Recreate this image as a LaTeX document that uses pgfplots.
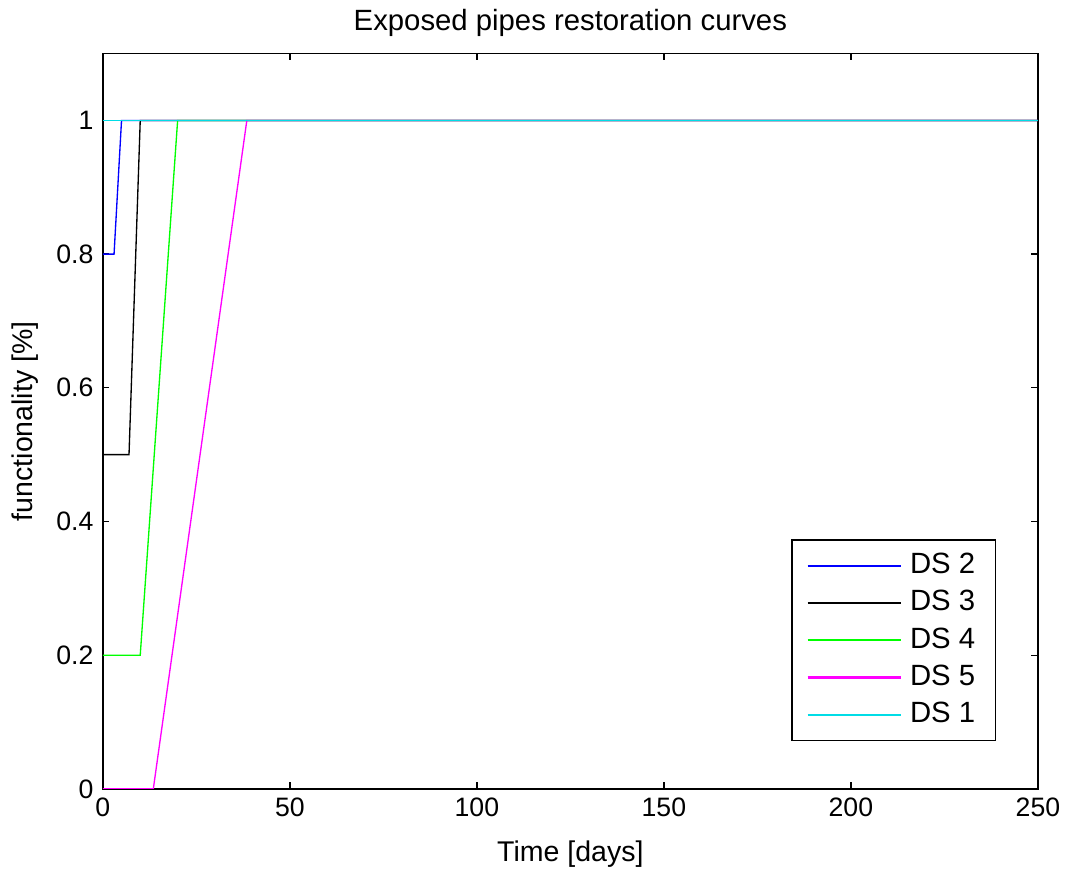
\documentclass[border=0pt]{standalone}
\usepackage{pgfplots}
\pgfplotsset{compat=1.18}
\usepackage{fontspec}
\setmainfont{Liberation Sans}
\definecolor{dsblue}{RGB}{0,0,255}
\definecolor{dsgreen}{RGB}{0,255,0}
\definecolor{dsmag}{RGB}{255,0,255}
\definecolor{dscyan}{RGB}{0,220,230}

\begin{document}
\begin{tikzpicture}
\begin{axis}[
  scale only axis,
  width=351pt, height=276pt,
  xmin=0, xmax=250, ymin=0, ymax=1.1,
  xtick={0,50,...,250},
  ytick={0,0.2,0.4,0.6,0.8,1},
  /pgf/number format/assume math mode=true,
  yticklabel style={/pgf/number format/fixed},
  tick align=inside,
  major tick length=2.5pt,
  tick style={black, line width=0.5pt},
  ticklabel style={font=\fontsize{10}{12}\selectfont},
  axis line style={line width=0.6pt},
  title={Exposed pipes restoration curves},
  title style={font=\fontsize{11}{13}\selectfont, yshift=-3pt},
  xlabel={Time [days]},
  ylabel={functionality [\%]},
  label style={font=\fontsize{10.7}{12}\selectfont},
  xlabel style={yshift=-2pt},
  legend style={at={(0.955,0.065)}, anchor=south east,
    font=\fontsize{11}{13}\selectfont, draw=black, line width=0.5pt,
    row sep=0pt, column sep=1pt, inner xsep=5.5pt, inner ysep=2.6pt,
    nodes={text height=8pt, text depth=2pt, inner sep=2pt}},
  legend cell align=left,
  legend image code/.code={\draw[#1, line width=0.85pt] (0pt,0pt) -- (35pt,0pt);},
  every axis plot/.append style={line width=0.5pt},
]
\addplot[dsblue] coordinates {(0,0.8) (3,0.8) (5,1) (250,1)};
\addplot[black] coordinates {(0,0.5) (7,0.5) (10,1) (250,1)};
\addplot[dsgreen] coordinates {(0,0.2) (10,0.2) (20,1) (250,1)};
\addplot[dsmag] coordinates {(0,0) (13.5,0) (38.5,1) (250,1)};
\addplot[dscyan] coordinates {(0,1) (250,1)};
\legend{DS 2, DS 3, DS 4, DS 5, DS 1}
\end{axis}
\path (current axis.south west) ++(-38.6pt,-32.2pt) coordinate (bl);
\path (current axis.north east) ++(10.9pt,19.9pt) coordinate (tr);
\path[use as bounding box] (bl) rectangle (tr);
\end{tikzpicture}
\end{document}
